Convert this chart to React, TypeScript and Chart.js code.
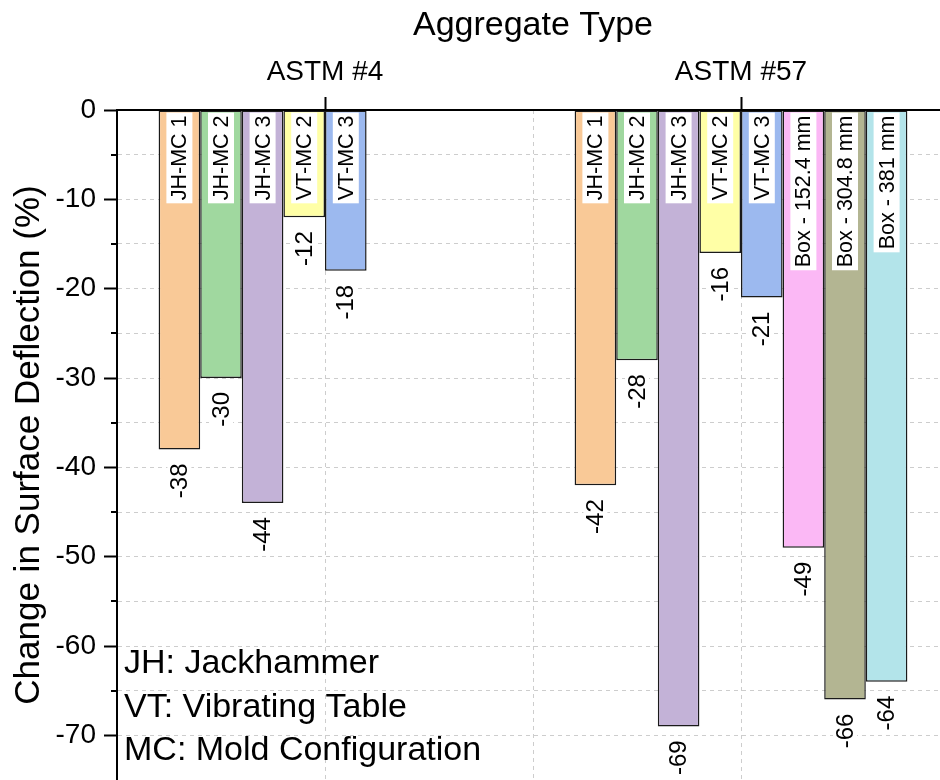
import React, { useEffect, useRef } from 'react';
import { Chart, registerables } from 'chart.js';

Chart.register(...registerables);

// Aggregate groups along the top axis
const aggregateTypes = ['ASTM #4', 'ASTM #57'];

// Consolidation method / mold series
const seriesNames = [
  'JH-MC 1',
  'JH-MC 2',
  'JH-MC 3',
  'VT-MC 2',
  'VT-MC 3',
  'Box - 152.4 mm',
  'Box - 304.8 mm',
  'Box - 381 mm',
];

// Change in surface deflection (%) per aggregate type
const jhMc1 = [-38, -42];
const jhMc2 = [-30, -28];
const jhMc3 = [-44, -69];
const vtMc2 = [-12, -16];
const vtMc3 = [-18, -21];
const box152 = [null, -49];
const box305 = [null, -66];
const box381 = [null, -64];

const seriesValues = [jhMc1, jhMc2, jhMc3, vtMc2, vtMc3, box152, box305, box381];

const seriesColors = [
  '#F9C997',
  '#A0D89F',
  '#C3B2D7',
  '#FFFFA6',
  '#9CB9EF',
  '#FBB8F5',
  '#B3B592',
  '#B3E4EA',
];

const legendLines = ['JH: Jackhammer', 'VT: Vibrating Table', 'MC: Mold Configuration'];

const yMin = -75;
const yMax = 0;

const FONT = '"Liberation Sans", Arial, Helvetica, sans-serif';
const GRID = '#cdcdcd';

// Rotated name tags at the top of each bar and value tags under each bar end
const barTagsPlugin = {
  id: 'barTags',
  afterDatasetsDraw(chart: any) {
    const ctx = chart.ctx;
    chart.data.datasets.forEach((ds: any, i: number) => {
      const meta = chart.getDatasetMeta(i);
      meta.data.forEach((bar: any, j: number) => {
        const v = ds.data[j];
        if (v === null || v === undefined) return;
        const { x, y, base } = bar.getProps(['x', 'y', 'base'], true);
        const top = Math.min(y, base);
        const bottom = Math.max(y, base);

        // series name, reading bottom to top, on a white tag
        ctx.save();
        ctx.font = `21.5px ${FONT}`;
        const name = ds.label;
        const pad = 3;
        const w = ctx.measureText(name).width;
        ctx.translate(x, top + 2);
        ctx.rotate(-Math.PI / 2);
        ctx.fillStyle = '#ffffff';
        ctx.fillRect(-(w + 2 * pad), -13, w + 2 * pad, 26);
        ctx.fillStyle = '#000000';
        ctx.textAlign = 'right';
        ctx.textBaseline = 'middle';
        ctx.fillText(name, -pad, 1);
        ctx.restore();

        // value below the bar end
        ctx.save();
        ctx.font = `24px ${FONT}`;
        const txt = String(v);
        const vw = ctx.measureText(txt).width;
        const vp = 2;
        ctx.translate(x, bottom + 12);
        ctx.rotate(-Math.PI / 2);
        ctx.fillStyle = '#ffffff';
        ctx.fillRect(-(vw + 2 * vp), -12, vw + 2 * vp, 24);
        ctx.fillStyle = '#000000';
        ctx.textAlign = 'right';
        ctx.textBaseline = 'middle';
        ctx.fillText(txt, -vp, 1);
        ctx.restore();
      });
    });
  },
};

// Short minor ticks on the left axis and the abbreviation key
const axisExtrasPlugin = {
  id: 'axisExtras',
  afterDraw(chart: any) {
    const ctx = chart.ctx;
    const ys = chart.scales.y;
    const area = chart.chartArea;
    ctx.save();
    ctx.strokeStyle = '#000000';
    ctx.lineWidth = 2;
    ys.ticks.forEach((t: any) => {
      if (t.value % 10 === 0 || t.value <= yMin) return;
      const py = Math.round(ys.getPixelForValue(t.value));
      ctx.beginPath();
      ctx.moveTo(area.left - 6, py);
      ctx.lineTo(area.left, py);
      ctx.stroke();
    });
    ctx.restore();

    ctx.save();
    ctx.font = `34px ${FONT}`;
    ctx.fillStyle = '#000000';
    ctx.textAlign = 'left';
    ctx.textBaseline = 'alphabetic';
    legendLines.forEach((line, k) => {
      ctx.fillText(line, area.left + 7, area.bottom - 107 + k * 43.5);
    });
    ctx.restore();
  },
};

export default function App() {
  const canvasRef = useRef<HTMLCanvasElement | null>(null);

  useEffect(() => {
    const canvas = canvasRef.current;
    if (!canvas) return;

    const datasets = seriesNames.map((name, i) => ({
      label: name,
      data: seriesValues[i],
      backgroundColor: seriesColors[i],
      borderColor: '#1a1a1a',
      borderWidth: 1.5,
      borderSkipped: false,
      categoryPercentage: 0.8,
      barPercentage: 1.0,
    }));

    const chart = new Chart(canvas, {
      type: 'bar',
      data: { labels: aggregateTypes, datasets },
      options: {
        animation: false,
        responsive: false,
        maintainAspectRatio: false,
        layout: { padding: { left: 0, top: 0, right: 11, bottom: 0 } },
        plugins: {
          legend: { display: false },
          tooltip: { enabled: false },
        },
        scales: {
          x: {
            type: 'category',
            position: 'top',
            offset: true,
            grid: {
              offset: false,
              color: GRID,
              lineWidth: 1,
              drawTicks: true,
              tickLength: 13,
              tickColor: '#000000',
              tickWidth: 2,
              tickBorderDash: [],
            },
            border: { display: true, color: '#000000', width: 2, dash: [4, 4], z: 1 },
            ticks: {
              color: '#000000',
              font: { family: FONT, size: 28 },
              padding: 8,
              maxRotation: 0,
            },
            title: {
              display: true,
              text: 'Aggregate Type',
              color: '#000000',
              font: { family: FONT, size: 34 },
              padding: { top: 5, bottom: 0 },
            },
            afterFit: (scale: any) => {
              scale.height = 110;
            },
          },
          xBounds: {
            type: 'category',
            position: 'bottom',
            offset: true,
            grid: {
              offset: true,
              color: GRID,
              lineWidth: 1,
              drawTicks: false,
            },
            border: { display: false, dash: [4, 4] },
            ticks: { display: false },
            afterFit: (scale: any) => {
              scale.height = 0;
            },
          },
          y: {
            type: 'linear',
            min: yMin,
            max: yMax,
            grid: {
              color: GRID,
              lineWidth: 1,
              drawTicks: true,
              tickLength: 13,
              tickWidth: 2,
              tickBorderDash: [],
              tickColor: (c: any) =>
                c.tick && c.tick.value % 10 === 0 ? '#000000' : 'rgba(0,0,0,0)',
            },
            border: { display: true, color: '#000000', width: 2, dash: [4, 4], z: 1 },
            ticks: {
              stepSize: 5,
              color: '#000000',
              font: { family: FONT, size: 28 },
              padding: 8,
              callback: (v: any) => {
                const n = Number(v);
                if (n <= yMin) return null;
                return n % 10 === 0 ? String(n) : '';
              },
            },
            title: {
              display: true,
              text: 'Change in Surface Deflection (%)',
              color: '#000000',
              font: { family: FONT, size: 35 },
              padding: { top: 8, bottom: 0 },
            },
            afterFit: (scale: any) => {
              scale.width = 117;
              scale.paddingTop = 0;
              scale.paddingBottom = 0;
            },
          },
        },
      },
      plugins: [barTagsPlugin, axisExtrasPlugin],
    } as any);

    return () => chart.destroy();
  }, []);

  return (
    <div
      style={{
        position: 'absolute',
        left: 0,
        top: 0,
        width: 940,
        height: 780,
        overflow: 'hidden',
        background: '#ffffff',
      }}
    >
      <canvas ref={canvasRef} width={960} height={780} style={{ display: 'block' }} />
    </div>
  );
}
